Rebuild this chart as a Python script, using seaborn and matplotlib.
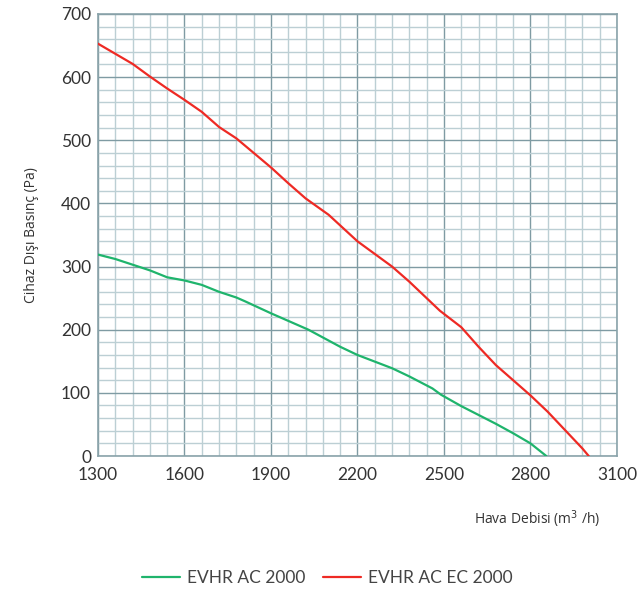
import numpy as np
import pandas as pd
import seaborn as sns
import matplotlib.pyplot as plt

# okunan degerler (grafikten tahmini)
ac_x = [1300, 1360, 1420, 1480, 1540, 1600, 1660, 1720, 1780, 1810, 1900, 1960, 2030,
        2140, 2200, 2320, 2380, 2460, 2490, 2560, 2620, 2680, 2740, 2800, 2855]
ac_y = [319, 312, 303, 294, 283, 278, 271, 260, 251, 245, 226, 214, 200,
        173, 160, 139, 126, 107, 97, 79, 65, 51, 36, 20, 0]
ec_x = [1300, 1360, 1420, 1480, 1540, 1600, 1660, 1720, 1780, 1900, 1960, 2020, 2100,
        2200, 2320, 2380, 2486, 2560, 2620, 2680, 2740, 2800, 2860, 2920, 2980, 3002]
ec_y = [653, 637, 621, 601, 582, 564, 545, 521, 503, 457, 432, 408, 382,
        340, 300, 276, 230, 204, 173, 144, 120, 96, 70, 41, 12, 0]
seri_adlari = ["EVHR AC 2000", "EVHR AC EC 2000"]
renkler = ["#1fb46c", "#ee2a24"]
x_ticks = [1300, 1600, 1900, 2200, 2500, 2800, 3100]
y_ticks = [0, 100, 200, 300, 400, 500, 600, 700]

df = pd.concat([
    pd.DataFrame({"debi": ac_x, "basinc": ac_y, "seri": seri_adlari[0]}),
    pd.DataFrame({"debi": ec_x, "basinc": ec_y, "seri": seri_adlari[1]}),
], ignore_index=True)

sns.set_style("white")
plt.rcParams["font.family"] = ["Lato", "DejaVu Sans"]

fig = plt.figure(figsize=(6.42, 5.95), dpi=100)
ax = fig.add_axes([0.1526, 0.2336, 0.8084, 0.7429])

sns.lineplot(data=df, x="debi", y="basinc", hue="seri", palette=renkler,
             linewidth=1.6, ax=ax, legend=False, sort=False, estimator=None, zorder=5)

ax.set_xlim(1300, 3100)
ax.set_ylim(0, 700)
ax.set_xticks(x_ticks)
ax.set_xticks(np.arange(1300, 3101, 60), minor=True)
ax.set_yticks(y_ticks)
ax.set_yticks(np.arange(0, 701, 20), minor=True)
ax.grid(which="minor", color="#bccfd4", linewidth=1.0)
ax.grid(which="major", color="#7f9ba3", linewidth=1.0)
ax.set_axisbelow(True)
for s in ax.spines.values():
    s.set_color("#8aa3aa")
    s.set_linewidth(1.2)
ax.tick_params(which="both", length=0, labelsize=12.5, colors="#333333")
ax.tick_params(axis="x", pad=8)
ax.tick_params(axis="y", pad=5)

ax.set_xlabel("")
ax.set_ylabel("Cihaz Dışı Basınç (Pa)", family=["Open Sans", "DejaVu Sans"],
              fontsize=10, color="#333333", labelpad=16)
fig.text(0.935, 0.128, "Hava Debisi (m$^3$ /h)", ha="right", va="center",
         family=["Open Sans", "DejaVu Sans"], fontsize=10, color="#333333")

handles = [plt.Line2D([], [], color=c, lw=1.6) for c in renkler]
fig.legend(handles, seri_adlari, loc="center", bbox_to_anchor=(0.51, 0.028),
           ncol=2, frameon=False, handlelength=2.2,
           columnspacing=1.0, handletextpad=0.4, labelcolor="#444444",
           prop={"family": ["Lato", "DejaVu Sans"], "size": 12.5})

fig.savefig("out.png", dpi=100)
